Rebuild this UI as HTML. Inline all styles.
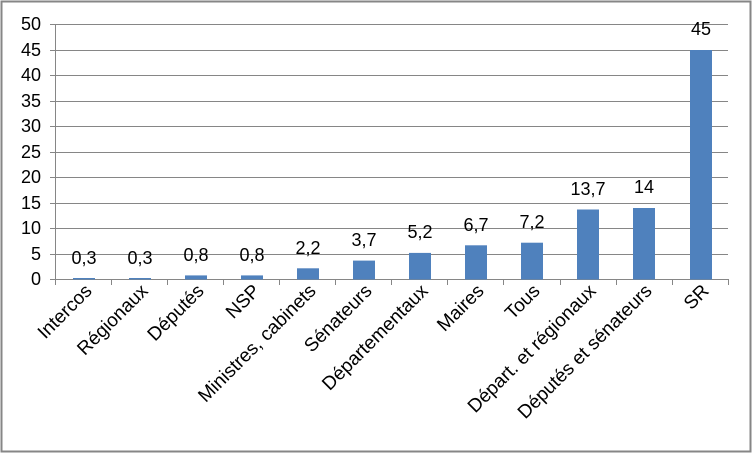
<!DOCTYPE html>
<html><head><meta charset="utf-8"><style>
html,body{margin:0;padding:0;background:#fff;}
svg{display:block;font-family:"Liberation Sans",sans-serif;}
</style></head><body>
<svg width="754" height="454" viewBox="0 0 754 454">
<rect x="1.5" y="1.5" width="749" height="450" fill="#fff" stroke="#868686" stroke-width="2"/>
<g stroke="#868686" stroke-width="1">
<line x1="50" y1="24.5" x2="728" y2="24.5"/>
<line x1="50" y1="50.5" x2="728" y2="50.5"/>
<line x1="50" y1="75.5" x2="728" y2="75.5"/>
<line x1="50" y1="101.5" x2="728" y2="101.5"/>
<line x1="50" y1="126.5" x2="728" y2="126.5"/>
<line x1="50" y1="152.5" x2="728" y2="152.5"/>
<line x1="50" y1="177.5" x2="728" y2="177.5"/>
<line x1="50" y1="203.5" x2="728" y2="203.5"/>
<line x1="50" y1="228.5" x2="728" y2="228.5"/>
<line x1="50" y1="254.5" x2="728" y2="254.5"/>
<line x1="50" y1="279.5" x2="728" y2="279.5"/>
<line x1="55.5" y1="24" x2="55.5" y2="285"/>
<line x1="111.5" y1="279" x2="111.5" y2="285"/><line x1="167.5" y1="279" x2="167.5" y2="285"/>
<line x1="223.5" y1="279" x2="223.5" y2="285"/><line x1="279.5" y1="279" x2="279.5" y2="285"/>
<line x1="335.5" y1="279" x2="335.5" y2="285"/><line x1="391.5" y1="279" x2="391.5" y2="285"/>
<line x1="447.5" y1="279" x2="447.5" y2="285"/><line x1="503.5" y1="279" x2="503.5" y2="285"/>
<line x1="560.5" y1="279" x2="560.5" y2="285"/><line x1="616.5" y1="279" x2="616.5" y2="285"/>
<line x1="672.5" y1="279" x2="672.5" y2="285"/><line x1="728.5" y1="279" x2="728.5" y2="285"/>
</g>
<g font-size="18" fill="#000" text-anchor="end">
<text x="41" y="30">50</text><text x="41" y="56">45</text><text x="41" y="81">40</text>
<text x="41" y="107">35</text><text x="41" y="132">30</text><text x="41" y="158">25</text>
<text x="41" y="183">20</text><text x="41" y="209">15</text><text x="41" y="234">10</text>
<text x="41" y="260">5</text><text x="41" y="285">0</text>
</g>
<g fill="#4f81bd">
<rect x="73" y="278" width="22" height="1.5"/>
<rect x="129" y="278" width="22" height="1.5"/>
<rect x="185" y="275.4" width="22" height="4.1"/>
<rect x="241" y="275.4" width="22" height="4.1"/>
<rect x="297" y="268.3" width="22" height="11.2"/>
<rect x="353" y="260.6" width="22" height="18.9"/>
<rect x="409" y="252.9" width="22" height="26.6"/>
<rect x="465" y="245.3" width="22" height="34.2"/>
<rect x="521" y="242.7" width="22" height="36.8"/>
<rect x="577" y="209.5" width="22" height="70"/>
<rect x="633" y="208" width="22" height="71.5"/>
<rect x="690" y="50" width="22" height="229.5"/>
</g>
<g font-size="18" fill="#000" text-anchor="middle">
<text x="84" y="264">0,3</text><text x="140" y="264">0,3</text>
<text x="196" y="261">0,8</text><text x="252" y="261">0,8</text>
<text x="308" y="254">2,2</text><text x="364" y="246">3,7</text>
<text x="420" y="238">5,2</text><text x="476" y="231">6,7</text>
<text x="532" y="228">7,2</text><text x="588" y="195">13,7</text>
<text x="644" y="193">14</text><text x="701" y="35">45</text>
</g>
<g font-size="19" fill="#000" text-anchor="end">
<text transform="translate(93,292) rotate(-45)">Intercos</text>
<text transform="translate(149,292) rotate(-45)">Régionaux</text>
<text transform="translate(205,292) rotate(-45)">Députés</text>
<text transform="translate(261,292) rotate(-45)">NSP</text>
<text transform="translate(317,292) rotate(-45)">Ministres, cabinets</text>
<text transform="translate(373,292) rotate(-45)">Sénateurs</text>
<text transform="translate(429,292) rotate(-45)">Départementaux</text>
<text transform="translate(485,292) rotate(-45)">Maires</text>
<text transform="translate(541,292) rotate(-45)">Tous</text>
<text transform="translate(597,292) rotate(-45)">Départ. et régionaux</text>
<text transform="translate(653,292) rotate(-45)">Députés et sénateurs</text>
<text transform="translate(710,292) rotate(-45)">SR</text>
</g>
</svg>
</body></html>
